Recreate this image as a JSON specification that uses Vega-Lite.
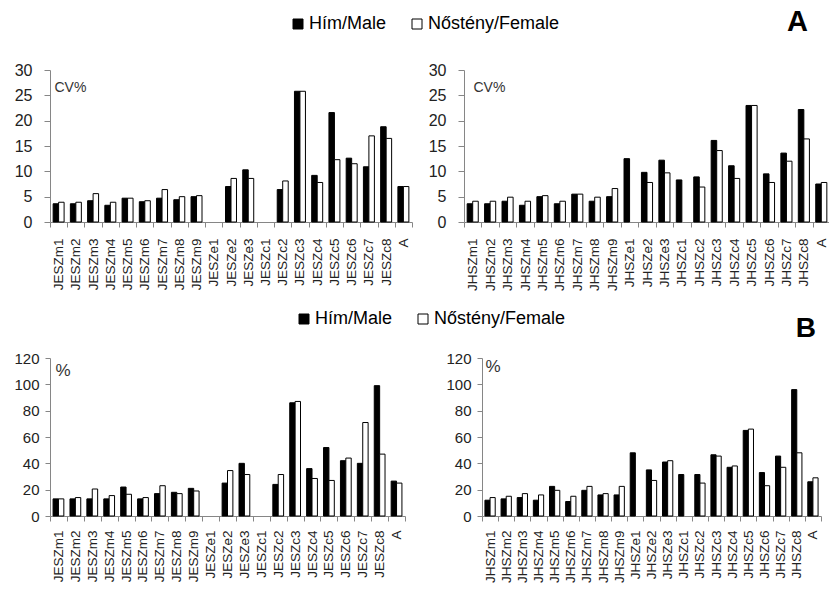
{
  "$schema": "https://vega.github.io/schema/vega-lite/v6.json",
  "background": "white",
  "padding": {"left": 13, "top": 8, "right": 0, "bottom": 0},
  "config": {
    "font": "Liberation Sans",
    "view": {"stroke": null},
    "axis": {"domainColor": "#868686", "tickColor": "#868686", "labelColor": "#222222", "grid": false, "labelFont": "Liberation Sans", "titleFont": "Liberation Sans"},
    "legend": {"labelFont": "Liberation Sans"}
  },
  "datasets": {
    "d": [
      {"p": "A1", "c": "JESZm1", "Hím/Male": 3.6, "Nőstény/Female": 3.9},
      {"p": "A1", "c": "JESZm2", "Hím/Male": 3.6, "Nőstény/Female": 3.9},
      {"p": "A1", "c": "JESZm3", "Hím/Male": 4.2, "Nőstény/Female": 5.6},
      {"p": "A1", "c": "JESZm4", "Hím/Male": 3.3, "Nőstény/Female": 3.9},
      {"p": "A1", "c": "JESZm5", "Hím/Male": 4.7, "Nőstény/Female": 4.7},
      {"p": "A1", "c": "JESZm6", "Hím/Male": 4.0, "Nőstény/Female": 4.2},
      {"p": "A1", "c": "JESZm7", "Hím/Male": 4.7, "Nőstény/Female": 6.4},
      {"p": "A1", "c": "JESZm8", "Hím/Male": 4.4, "Nőstény/Female": 5.0},
      {"p": "A1", "c": "JESZm9", "Hím/Male": 5.0, "Nőstény/Female": 5.2},
      {"p": "A1", "c": "JESZe2", "Hím/Male": 7.0, "Nőstény/Female": 8.6},
      {"p": "A1", "c": "JESZe3", "Hím/Male": 10.3, "Nőstény/Female": 8.6},
      {"p": "A1", "c": "JESZc2", "Hím/Male": 6.4, "Nőstény/Female": 8.1},
      {"p": "A1", "c": "JESZc3", "Hím/Male": 25.8, "Nőstény/Female": 25.8},
      {"p": "A1", "c": "JESZc4", "Hím/Male": 9.2, "Nőstény/Female": 7.8},
      {"p": "A1", "c": "JESZc5", "Hím/Male": 21.6, "Nőstény/Female": 12.3},
      {"p": "A1", "c": "JESZc6", "Hím/Male": 12.6, "Nőstény/Female": 11.5},
      {"p": "A1", "c": "JESZc7", "Hím/Male": 10.9, "Nőstény/Female": 17.0},
      {"p": "A1", "c": "JESZc8", "Hím/Male": 18.8, "Nőstény/Female": 16.5},
      {"p": "A1", "c": "A", "Hím/Male": 7.0, "Nőstény/Female": 7.0},

      {"p": "A2", "c": "JHSZm1", "Hím/Male": 3.6, "Nőstény/Female": 4.1},
      {"p": "A2", "c": "JHSZm2", "Hím/Male": 3.6, "Nőstény/Female": 4.1},
      {"p": "A2", "c": "JHSZm3", "Hím/Male": 4.1, "Nőstény/Female": 4.9},
      {"p": "A2", "c": "JHSZm4", "Hím/Male": 3.3, "Nőstény/Female": 4.1},
      {"p": "A2", "c": "JHSZm5", "Hím/Male": 5.0, "Nőstény/Female": 5.2},
      {"p": "A2", "c": "JHSZm6", "Hím/Male": 3.6, "Nőstény/Female": 4.1},
      {"p": "A2", "c": "JHSZm7", "Hím/Male": 5.5, "Nőstény/Female": 5.5},
      {"p": "A2", "c": "JHSZm8", "Hím/Male": 4.1, "Nőstény/Female": 4.9},
      {"p": "A2", "c": "JHSZm9", "Hím/Male": 5.0, "Nőstény/Female": 6.6},
      {"p": "A2", "c": "JHSZe1", "Hím/Male": 12.5},
      {"p": "A2", "c": "JHSZe2", "Hím/Male": 9.8, "Nőstény/Female": 7.8},
      {"p": "A2", "c": "JHSZe3", "Hím/Male": 12.2, "Nőstény/Female": 9.7},
      {"p": "A2", "c": "JHSZc1", "Hím/Male": 8.3},
      {"p": "A2", "c": "JHSZc2", "Hím/Male": 8.9, "Nőstény/Female": 6.9},
      {"p": "A2", "c": "JHSZc3", "Hím/Male": 16.1, "Nőstény/Female": 14.1},
      {"p": "A2", "c": "JHSZc4", "Hím/Male": 11.1, "Nőstény/Female": 8.6},
      {"p": "A2", "c": "JHSZc5", "Hím/Male": 23.0, "Nőstény/Female": 23.0},
      {"p": "A2", "c": "JHSZc6", "Hím/Male": 9.5, "Nőstény/Female": 7.8},
      {"p": "A2", "c": "JHSZc7", "Hím/Male": 13.6, "Nőstény/Female": 12.0},
      {"p": "A2", "c": "JHSZc8", "Hím/Male": 22.2, "Nőstény/Female": 16.4},
      {"p": "A2", "c": "A", "Hím/Male": 7.5, "Nőstény/Female": 7.8},

      {"p": "B1", "c": "JESZm1", "Hím/Male": 13, "Nőstény/Female": 13},
      {"p": "B1", "c": "JESZm2", "Hím/Male": 13, "Nőstény/Female": 14},
      {"p": "B1", "c": "JESZm3", "Hím/Male": 13, "Nőstény/Female": 20.5},
      {"p": "B1", "c": "JESZm4", "Hím/Male": 13, "Nőstény/Female": 15.5},
      {"p": "B1", "c": "JESZm5", "Hím/Male": 22, "Nőstény/Female": 16.5},
      {"p": "B1", "c": "JESZm6", "Hím/Male": 13, "Nőstény/Female": 14},
      {"p": "B1", "c": "JESZm7", "Hím/Male": 17, "Nőstény/Female": 23},
      {"p": "B1", "c": "JESZm8", "Hím/Male": 18, "Nőstény/Female": 17},
      {"p": "B1", "c": "JESZm9", "Hím/Male": 21, "Nőstény/Female": 19},
      {"p": "B1", "c": "JESZe2", "Hím/Male": 25, "Nőstény/Female": 34.5},
      {"p": "B1", "c": "JESZe3", "Hím/Male": 40, "Nőstény/Female": 31.5},
      {"p": "B1", "c": "JESZc2", "Hím/Male": 24, "Nőstény/Female": 31.5},
      {"p": "B1", "c": "JESZc3", "Hím/Male": 86, "Nőstény/Female": 87},
      {"p": "B1", "c": "JESZc4", "Hím/Male": 36, "Nőstény/Female": 28.5},
      {"p": "B1", "c": "JESZc5", "Hím/Male": 52, "Nőstény/Female": 27},
      {"p": "B1", "c": "JESZc6", "Hím/Male": 42, "Nőstény/Female": 44},
      {"p": "B1", "c": "JESZc7", "Hím/Male": 40, "Nőstény/Female": 71},
      {"p": "B1", "c": "JESZc8", "Hím/Male": 99, "Nőstény/Female": 47},
      {"p": "B1", "c": "A", "Hím/Male": 26.5, "Nőstény/Female": 25},

      {"p": "B2", "c": "JHSZm1", "Hím/Male": 12, "Nőstény/Female": 14},
      {"p": "B2", "c": "JHSZm2", "Hím/Male": 13, "Nőstény/Female": 15},
      {"p": "B2", "c": "JHSZm3", "Hím/Male": 14, "Nőstény/Female": 17},
      {"p": "B2", "c": "JHSZm4", "Hím/Male": 12, "Nőstény/Female": 16},
      {"p": "B2", "c": "JHSZm5", "Hím/Male": 22.5, "Nőstény/Female": 19.5},
      {"p": "B2", "c": "JHSZm6", "Hím/Male": 11, "Nőstény/Female": 15},
      {"p": "B2", "c": "JHSZm7", "Hím/Male": 19.5, "Nőstény/Female": 22.5},
      {"p": "B2", "c": "JHSZm8", "Hím/Male": 16, "Nőstény/Female": 17},
      {"p": "B2", "c": "JHSZm9", "Hím/Male": 16, "Nőstény/Female": 22.5},
      {"p": "B2", "c": "JHSZe1", "Hím/Male": 48},
      {"p": "B2", "c": "JHSZe2", "Hím/Male": 35, "Nőstény/Female": 27},
      {"p": "B2", "c": "JHSZe3", "Hím/Male": 41, "Nőstény/Female": 42},
      {"p": "B2", "c": "JHSZc1", "Hím/Male": 31.5},
      {"p": "B2", "c": "JHSZc2", "Hím/Male": 31.5, "Nőstény/Female": 25},
      {"p": "B2", "c": "JHSZc3", "Hím/Male": 46.5, "Nőstény/Female": 45.5},
      {"p": "B2", "c": "JHSZc4", "Hím/Male": 37, "Nőstény/Female": 38},
      {"p": "B2", "c": "JHSZc5", "Hím/Male": 65, "Nőstény/Female": 66},
      {"p": "B2", "c": "JHSZc6", "Hím/Male": 33, "Nőstény/Female": 23},
      {"p": "B2", "c": "JHSZc7", "Hím/Male": 45.5, "Nőstény/Female": 37},
      {"p": "B2", "c": "JHSZc8", "Hím/Male": 96, "Nőstény/Female": 48},
      {"p": "B2", "c": "A", "Hím/Male": 26, "Nőstény/Female": 29}
    ]
  },
  "data": {"name": "d"},
  "spacing": 288,
  "bounds": "flush",
  "resolve": {
    "scale": {"x": "independent", "y": "independent", "fill": "independent", "xOffset": "independent"},
    "axis": {"x": "independent", "y": "independent"},
    "legend": {"fill": "independent"}
  },
  "vconcat": [
    {
      "spacing": 52,
      "bounds": "flush",
      "resolve": {
        "scale": {"x": "independent", "y": "independent", "fill": "independent", "xOffset": "independent"},
        "axis": {"x": "independent", "y": "independent"},
        "legend": {"fill": "independent"}
      },
      "hconcat": [
        {
          "width": 362,
          "height": 152,
          "transform": [
            {"filter": "datum.p === 'A1'"},
            {"fold": ["Hím/Male", "Nőstény/Female"], "as": ["sex", "v"]}
          ],
          "mark": {"type": "bar", "stroke": "black", "strokeWidth": 1},
          "encoding": {
            "x": {
              "field": "c", "type": "nominal",
              "scale": {"domain": ["JESZm1","JESZm2","JESZm3","JESZm4","JESZm5","JESZm6","JESZm7","JESZm8","JESZm9","JESZe1","JESZe2","JESZe3","JESZc1","JESZc2","JESZc3","JESZc4","JESZc5","JESZc6","JESZc7","JESZc8","A"], "paddingInner": 0, "paddingOuter": 0},
              "axis": {"title": null, "labelAngle": -90, "labelFontSize": 13.5, "tickBand": "extent", "tickSize": 5, "labelPadding": 11}
            },
            "xOffset": {"field": "sex", "type": "nominal", "scale": {"domain": ["Hím/Male", "Nőstény/Female"], "paddingOuter": 0.57, "paddingInner": 0}},
            "y": {
              "field": "v", "type": "quantitative",
              "scale": {"domain": [0, 30]},
              "axis": {"values": [0, 5, 10, 15, 20, 25, 30], "title": "CV%", "titleAngle": 0, "titleX": 4, "titleY": 10, "titleAlign": "left", "titleBaseline": "top", "titleFontSize": 14, "titleFontWeight": "normal", "titleColor": "#333333", "labelFontSize": 16, "tickSize": 6, "labelPadding": 12}
            },
            "fill": {
              "field": "sex", "type": "nominal",
              "scale": {"domain": ["Hím/Male", "Nőstény/Female"], "range": ["black", "white"]},
              "legend": {"orient": "none", "legendX": 239, "legendY": -55, "direction": "horizontal", "title": null, "symbolType": "square", "symbolSize": 100, "symbolStrokeColor": "black", "symbolStrokeWidth": 1, "labelFontSize": 18, "labelColor": "black", "labelOffset": 2, "columnPadding": 21}
            }
          }
        },
        {
          "width": 366,
          "height": 152,
          "title": {"text": "A", "anchor": "end", "frame": "group", "fontSize": 29, "fontWeight": "bold", "font": "Liberation Sans", "color": "black", "offset": 0, "dy": -2, "dx": -22, "baseline": "alphabetic"},
          "transform": [
            {"filter": "datum.p === 'A2'"},
            {"fold": ["Hím/Male", "Nőstény/Female"], "as": ["sex", "v"]}
          ],
          "mark": {"type": "bar", "stroke": "black", "strokeWidth": 1},
          "encoding": {
            "x": {
              "field": "c", "type": "nominal",
              "scale": {"domain": ["JHSZm1","JHSZm2","JHSZm3","JHSZm4","JHSZm5","JHSZm6","JHSZm7","JHSZm8","JHSZm9","JHSZe1","JHSZe2","JHSZe3","JHSZc1","JHSZc2","JHSZc3","JHSZc4","JHSZc5","JHSZc6","JHSZc7","JHSZc8","A"], "paddingInner": 0, "paddingOuter": 0},
              "axis": {"title": null, "labelAngle": -90, "labelFontSize": 13.5, "tickBand": "extent", "tickSize": 5, "labelPadding": 11}
            },
            "xOffset": {"field": "sex", "type": "nominal", "scale": {"domain": ["Hím/Male", "Nőstény/Female"], "paddingOuter": 0.57, "paddingInner": 0}},
            "y": {
              "field": "v", "type": "quantitative",
              "scale": {"domain": [0, 30]},
              "axis": {"values": [0, 5, 10, 15, 20, 25, 30], "title": "CV%", "titleAngle": 0, "titleX": 9, "titleY": 10, "titleAlign": "left", "titleBaseline": "top", "titleFontSize": 14, "titleFontWeight": "normal", "titleColor": "#333333", "labelFontSize": 16, "tickSize": 6, "labelPadding": 12}
            },
            "fill": {
              "field": "sex", "type": "nominal",
              "scale": {"domain": ["Hím/Male", "Nőstény/Female"], "range": ["black", "white"]},
              "legend": null
            }
          }
        }
      ]
    },
    {
      "spacing": 77,
      "bounds": "flush",
      "resolve": {
        "scale": {"x": "independent", "y": "independent", "fill": "independent", "xOffset": "independent"},
        "axis": {"x": "independent", "y": "independent"},
        "legend": {"fill": "independent"}
      },
      "hconcat": [
        {
          "width": 355,
          "height": 158,
          "transform": [
            {"filter": "datum.p === 'B1'"},
            {"fold": ["Hím/Male", "Nőstény/Female"], "as": ["sex", "v"]}
          ],
          "mark": {"type": "bar", "stroke": "black", "strokeWidth": 1},
          "encoding": {
            "x": {
              "field": "c", "type": "nominal",
              "scale": {"domain": ["JESZm1","JESZm2","JESZm3","JESZm4","JESZm5","JESZm6","JESZm7","JESZm8","JESZm9","JESZe1","JESZe2","JESZe3","JESZc1","JESZc2","JESZc3","JESZc4","JESZc5","JESZc6","JESZc7","JESZc8","A"], "paddingInner": 0, "paddingOuter": 0},
              "axis": {"title": null, "labelAngle": -90, "labelFontSize": 13.5, "tickBand": "extent", "tickSize": 5, "labelPadding": 9}
            },
            "xOffset": {"field": "sex", "type": "nominal", "scale": {"domain": ["Hím/Male", "Nőstény/Female"], "paddingOuter": 0.57, "paddingInner": 0}},
            "y": {
              "field": "v", "type": "quantitative",
              "scale": {"domain": [0, 120]},
              "axis": {"values": [0, 20, 40, 60, 80, 100, 120], "title": "%", "titleAngle": 0, "titleX": 5, "titleY": 4, "titleAlign": "left", "titleBaseline": "top", "titleFontSize": 17, "titleFontWeight": "normal", "titleColor": "#333333", "labelFontSize": 15, "tickSize": 5, "labelPadding": 6}
            },
            "fill": {
              "field": "sex", "type": "nominal",
              "scale": {"domain": ["Hím/Male", "Nőstény/Female"], "range": ["black", "white"]},
              "legend": {"orient": "none", "legendX": 245, "legendY": -48, "direction": "horizontal", "title": null, "symbolType": "square", "symbolSize": 100, "symbolStrokeColor": "black", "symbolStrokeWidth": 1, "labelFontSize": 18, "labelColor": "black", "labelOffset": 2, "columnPadding": 21}
            }
          }
        },
        {
          "width": 339,
          "height": 158,
          "title": {"text": "B", "anchor": "end", "frame": "group", "fontSize": 28, "fontWeight": "bold", "font": "Liberation Sans", "color": "black", "offset": 0, "dy": 14, "dx": -5, "baseline": "alphabetic"},
          "transform": [
            {"filter": "datum.p === 'B2'"},
            {"fold": ["Hím/Male", "Nőstény/Female"], "as": ["sex", "v"]}
          ],
          "mark": {"type": "bar", "stroke": "black", "strokeWidth": 1},
          "encoding": {
            "x": {
              "field": "c", "type": "nominal",
              "scale": {"domain": ["JHSZm1","JHSZm2","JHSZm3","JHSZm4","JHSZm5","JHSZm6","JHSZm7","JHSZm8","JHSZm9","JHSZe1","JHSZe2","JHSZe3","JHSZc1","JHSZc2","JHSZc3","JHSZc4","JHSZc5","JHSZc6","JHSZc7","JHSZc8","A"], "paddingInner": 0, "paddingOuter": 0},
              "axis": {"title": null, "labelAngle": -90, "labelFontSize": 13.5, "tickBand": "extent", "tickSize": 5, "labelPadding": 9}
            },
            "xOffset": {"field": "sex", "type": "nominal", "scale": {"domain": ["Hím/Male", "Nőstény/Female"], "paddingOuter": 0.57, "paddingInner": 0}},
            "y": {
              "field": "v", "type": "quantitative",
              "scale": {"domain": [0, 120]},
              "axis": {"values": [0, 20, 40, 60, 80, 100, 120], "title": "%", "titleAngle": 0, "titleX": 3, "titleY": 0, "titleAlign": "left", "titleBaseline": "top", "titleFontSize": 17, "titleFontWeight": "normal", "titleColor": "#333333", "labelFontSize": 15, "tickSize": 5, "labelPadding": 6}
            },
            "fill": {
              "field": "sex", "type": "nominal",
              "scale": {"domain": ["Hím/Male", "Nőstény/Female"], "range": ["black", "white"]},
              "legend": null
            }
          }
        }
      ]
    }
  ]
}
